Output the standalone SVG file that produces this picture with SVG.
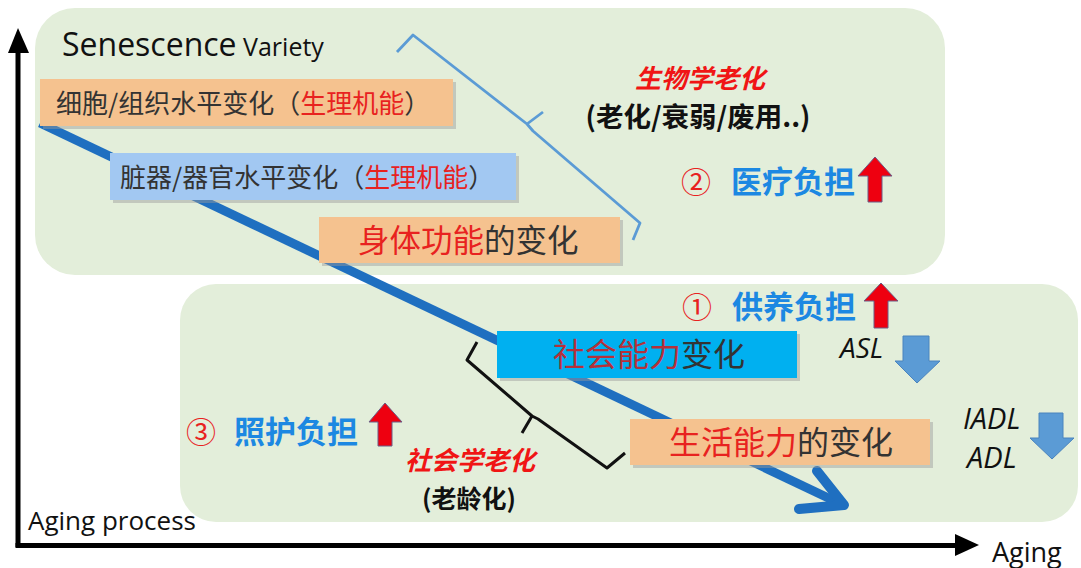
<svg xmlns="http://www.w3.org/2000/svg" width="1081" height="568" viewBox="0 0 1081 568">
  <defs>
    <style>
      .panel { fill: #E3EEDA; }
      .orange { fill: #F5C28F; }
      .lblue { fill: #A2C8F2; }
      .cyan { fill: #00B0F0; }
      .shadow { fill: #9A9A9A; opacity: 0.45; }
      .cjk { font-family: "Noto Sans CJK SC", "Noto Sans", sans-serif; }
      .lat { font-family: "Open Sans", "Liberation Sans", sans-serif; }
      .dark { fill: #333333; }
      .red { fill: #E8221F; }
      .dred { fill: #B5303A; }
      .bluet { fill: #1C88E2; font-weight: bold; }
      .bi { font-weight: bold; font-style: italic; }
      .b { font-weight: bold; }
      .uparrow { fill: #EE0010; stroke: #6B5C85; stroke-width: 1; }
      .downarrow { fill: #5B9BD5; stroke: #4A84BE; stroke-width: 1; }
    </style>
  </defs>

  <!-- panels -->
  <g id="panel-biological">
    <rect class="panel" x="35" y="8" width="910" height="267" rx="40"/>
  </g>
  <g id="panel-social">
    <rect class="panel" x="180" y="284" width="898" height="238" rx="36"/>
  </g>

  <!-- connectors -->
  <g id="connectors" fill="none">
    <line x1="40" y1="123" x2="841" y2="504" stroke="#1F6FC0" stroke-width="9"/>
    <polyline points="817,471 844,505 799,509" stroke="#1F6FC0" stroke-width="10" stroke-linecap="round" stroke-linejoin="round"/>
    <path d="M397,52 L413,35 L527,124 L543,112 M527,124 L533,131 L640,223 L633,240" stroke="#5B9BD5" stroke-width="2.8" stroke-linejoin="round"/>
    <path d="M477,342 L467,360 L532,416 L522,433 M532,416 L538,419 L607,468 L625,453" stroke="#111111" stroke-width="3" stroke-linejoin="round"/>
  </g>

  <!-- axes -->
  <g id="axes">
    <rect x="15.5" y="50" width="5" height="497" fill="#000"/>
    <polygon points="18,28 8,53 29,53" fill="#000"/>
    <rect x="15.5" y="543" width="945" height="5" fill="#000"/>
    <polygon points="979,545 955,534 955,556" fill="#000"/>
    <text class="lat" x="28" y="530" font-size="26" fill="#111">Aging process</text>
    <text class="lat" x="992" y="562" font-size="27" fill="#111">Aging</text>
  </g>

  <g id="title">
    <text class="lat" x="62" y="56" fill="#111"><tspan font-size="32">Senescence</tspan><tspan font-size="25"> Variety</tspan></text>
  </g>

  <!-- boxes -->
  <g id="box-cell">
    <rect class="shadow" x="43" y="82" width="413" height="47"/>
    <rect class="orange" x="40" y="79" width="413" height="47"/>
    <text class="cjk dark" x="56" y="113" font-size="26">细胞/组织水平变化（<tspan class="red">生理机能</tspan>）</text>
  </g>
  <g id="box-organ">
    <rect class="shadow" x="113" y="156" width="406" height="47"/>
    <rect class="lblue" x="110" y="153" width="406" height="47"/>
    <text class="cjk dark" x="120" y="187" font-size="26">脏器/器官水平变化（<tspan class="red">生理机能</tspan>）</text>
  </g>
  <g id="box-body">
    <rect class="shadow" x="322" y="220" width="301" height="46"/>
    <rect class="orange" x="319" y="217" width="301" height="46"/>
    <text class="cjk dark" x="358" y="252" font-size="31.5"><tspan class="red">身体功能</tspan>的变化</text>
  </g>
  <g id="box-social">
    <rect class="shadow" x="500" y="334" width="300" height="47"/>
    <rect class="cyan" x="497" y="331" width="300" height="47"/>
    <text class="cjk dark" x="553" y="366" font-size="32"><tspan class="dred">社会能力</tspan>变化</text>
  </g>
  <g id="box-living">
    <rect class="shadow" x="633" y="422" width="300" height="46"/>
    <rect class="orange" x="630" y="419" width="300" height="46"/>
    <text class="cjk dark" x="669" y="454" font-size="32"><tspan class="red">生活能力</tspan>的变化</text>
  </g>

  <!-- labels -->
  <g id="label-biological">
    <text class="cjk bi" x="700" y="88" font-size="26" fill="#F01515" text-anchor="middle">生物学老化</text>
    <text class="cjk b" x="698" y="127" font-size="27.5" fill="#111" text-anchor="middle">(老化/衰弱/废用..)</text>
  </g>
  <g id="label-social">
    <text class="cjk bi" x="470" y="470" font-size="26" fill="#F01515" text-anchor="middle">社会学老化</text>
    <text class="cjk b" x="469" y="508" font-size="25" fill="#111" text-anchor="middle">(老龄化)</text>
  </g>

  <g id="burden-medical">
    <text class="cjk" x="681" y="193" font-size="30" fill="#E8221F">②</text>
    <text class="cjk bluet" x="731" y="193" font-size="31">医疗负担</text>
    <polygon class="uparrow" points="875,157 892,176 882,176 882,202 868,202 868,176 858,176"/>
  </g>
  <g id="burden-support">
    <text class="cjk" x="682" y="318" font-size="30" fill="#E8221F">①</text>
    <text class="cjk bluet" x="732" y="318" font-size="31">供养负担</text>
    <polygon class="uparrow" points="881,283 898,301 888,301 888,328 874,328 874,301 864,301"/>
  </g>
  <g id="burden-care">
    <text class="cjk" x="186" y="443" font-size="30" fill="#E8221F">③</text>
    <text class="cjk bluet" x="234" y="443" font-size="31">照护负担</text>
    <polygon class="uparrow" points="385,403 402,422 392,422 392,446 378,446 378,422 369,422"/>
  </g>

  <g id="indicator-asl">
    <text class="lat" x="840" y="358" font-size="28" font-style="italic" fill="#111">ASL</text>
    <polygon class="downarrow" points="903,336 929,336 929,361 940,361 917,383 895,361 903,361"/>
  </g>
  <g id="indicator-adl">
    <text class="lat" x="963" y="429" font-size="29" font-style="italic" fill="#111">IADL</text>
    <text class="lat" x="967" y="468" font-size="29" font-style="italic" fill="#111">ADL</text>
    <polygon class="downarrow" points="1039,413 1063,413 1063,438 1074,438 1052,459 1030,438 1039,438"/>
  </g>
</svg>
